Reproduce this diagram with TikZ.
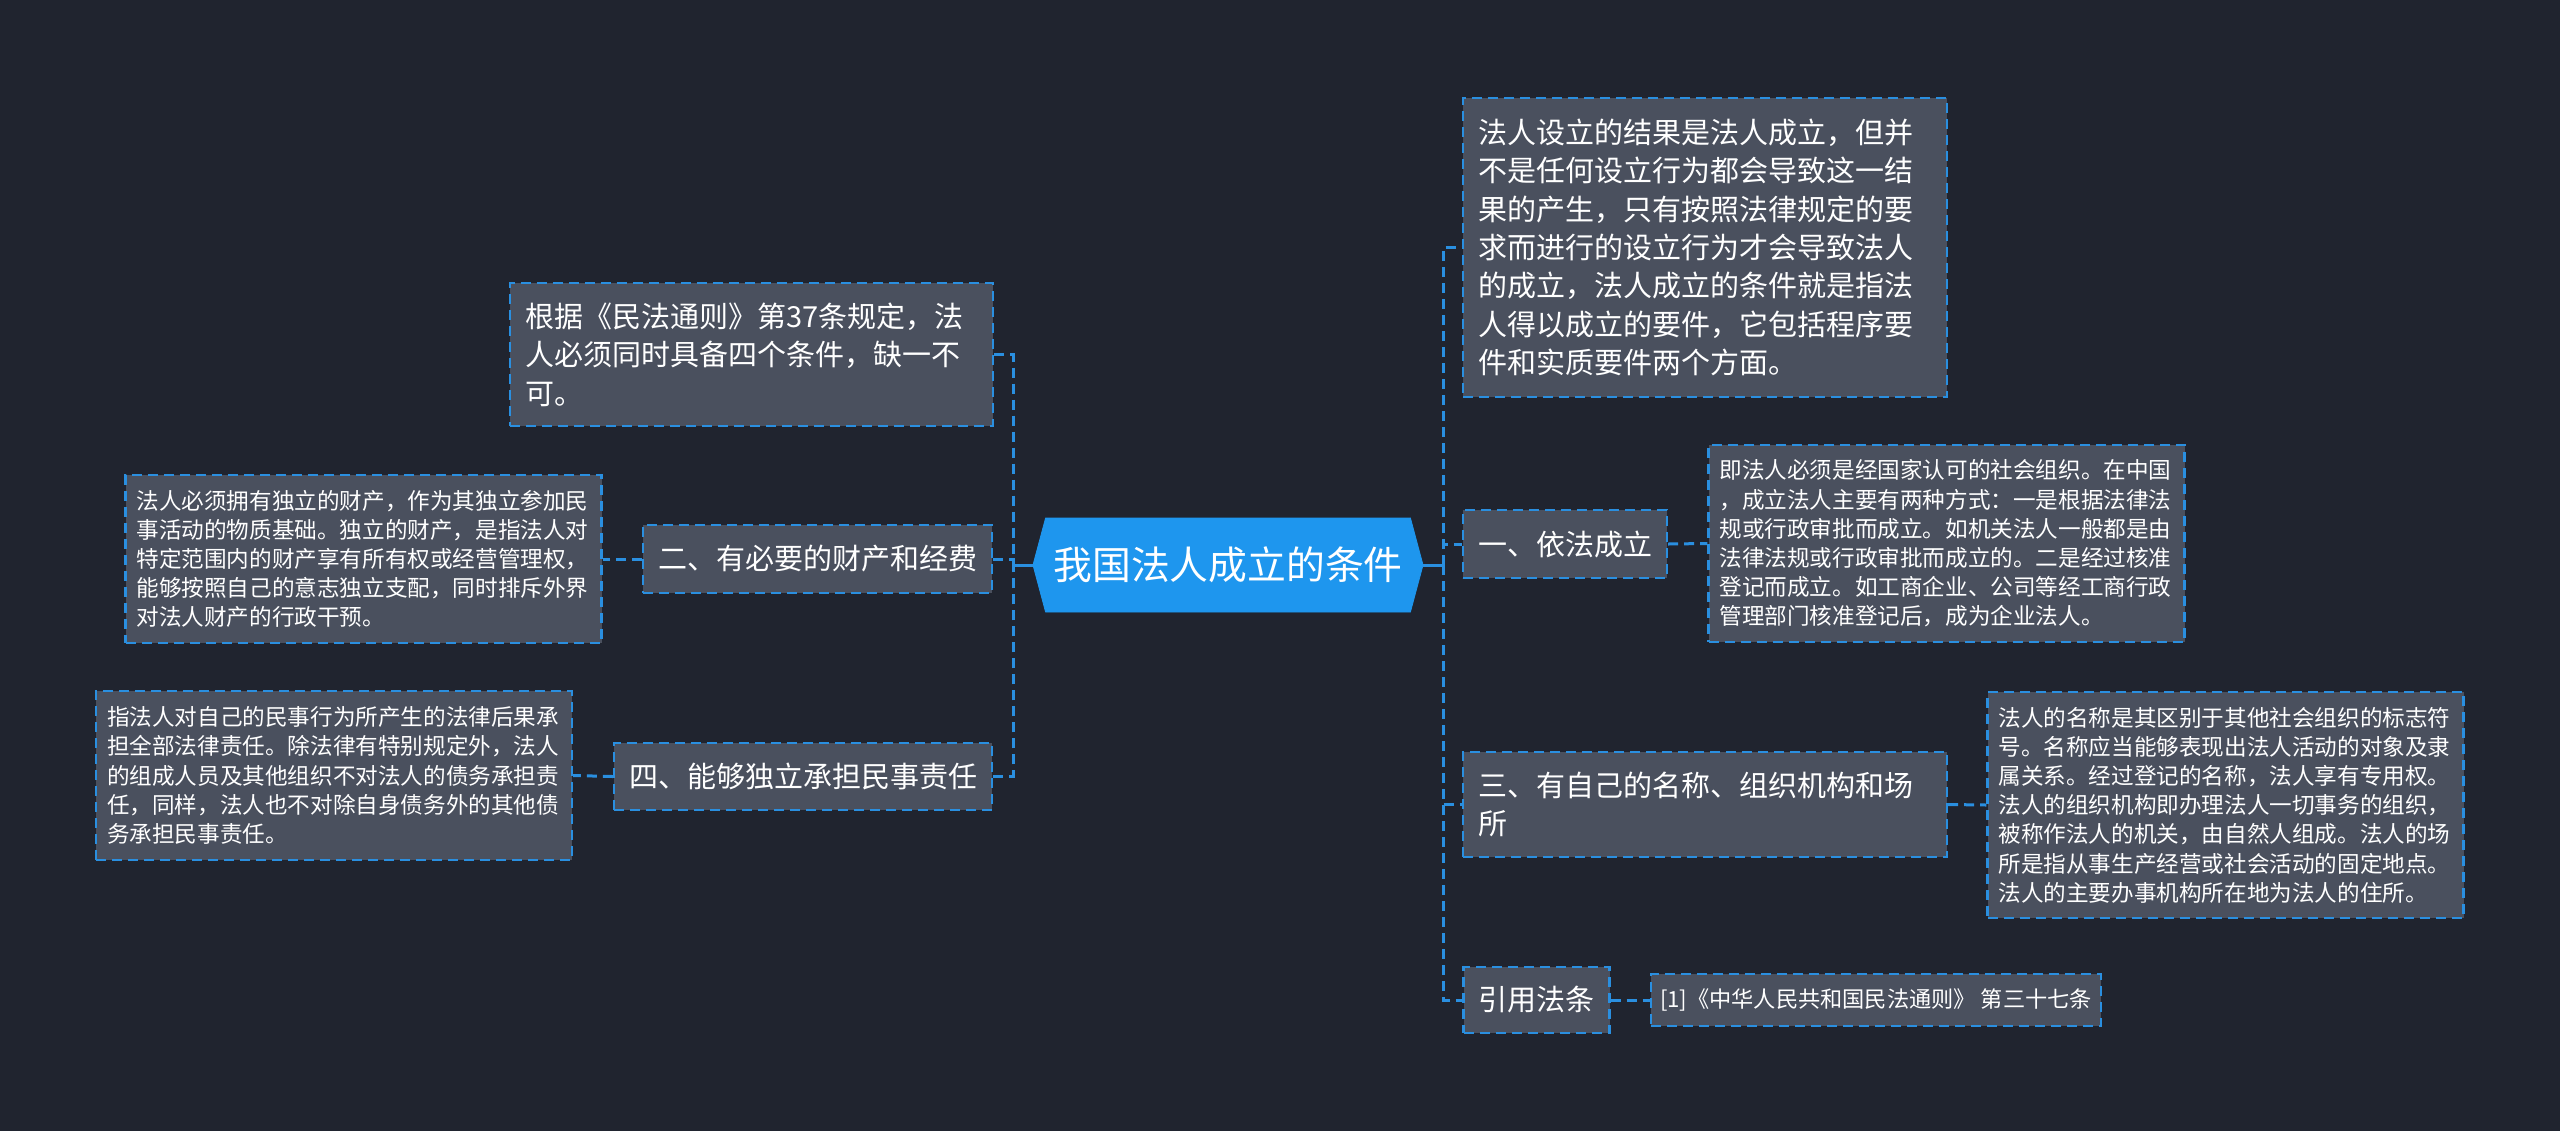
\documentclass[tikz,border=0pt]{standalone}
\usepackage{fontspec}
\setmainfont{Noto Sans CJK SC}
\usepackage{tikz}
\usetikzlibrary{shapes.symbols}
\definecolor{bgdark}{HTML}{20242F}
\definecolor{boxgray}{HTML}{4A505E}
\definecolor{lineblue}{HTML}{2A8FE0}
\definecolor{rootblue}{HTML}{1E96EE}
\tikzset{every picture/.style={x=0.5pt, y=-0.5pt}}
\tikzset{solidlink/.style={draw=lineblue, line width=1.5pt}}
\tikzset{dashlink/.style={solidlink, dash pattern=on 5pt off 3pt}}
\tikzset{mainbox/.style={draw=lineblue, fill=boxgray, text=white, line width=1.2pt, dash pattern=on 5pt off 3pt, inner xsep=7.5pt, inner ysep=0pt, align=left, font=\fontsize{14.5}{19.2}\selectfont}}
\tikzset{notebox/.style={mainbox, inner xsep=5.5pt, text width=227pt, font=\fontsize{11.3}{14.6}\selectfont}}
\tikzset{centerbox/.style={signal, signal to=east and west, signal pointer angle=150, fill=rootblue, draw=rootblue, text=white, minimum width=195pt, minimum height=47pt, inner sep=0pt, font=\fontsize{19.4}{24}\selectfont}}

\begin{document}
\begin{tikzpicture}
\fill[bgdark] (0,0) rectangle (2560,1131);
\node[centerbox] (root) at (1228,565) {我国法人成立的条件};
\coordinate (lj) at (1013,565);
\coordinate (rj) at (1443,565);
% left side
\node[mainbox, text width=226.5pt, minimum height=71.5pt] (l1) at (751.5,354.5) {根据《民法通则》第37条规定，法\\人必须同时具备四个条件，缺一不\\可。};
\node[mainbox, minimum height=34pt] (l2) at (817.5,559) {二、有必要的财产和经费};
\node[notebox, minimum height=84pt] (l2n) at (363.5,559) {法人必须拥有独立的财产，作为其独立参加民\\事活动的物质基础。独立的财产，是指法人对\\特定范围内的财产享有所有权或经营管理权，\\能够按照自己的意志独立支配，同时排斥外界\\对法人财产的行政干预。};
\node[mainbox, minimum height=33.5pt] (l4) at (803,776.5) {四、能够独立承担民事责任};
\node[notebox, minimum height=84.5pt] (l4n) at (334,775.5) {指法人对自己的民事行为所产生的法律后果承\\担全部法律责任。除法律有特别规定外，法人\\的组成人员及其他组织不对法人的债务承担责\\任，同样，法人也不对除自身债务外的其他债\\务承担民事责任。};
% right side
\node[mainbox, text width=227pt, minimum height=149.5pt] (r1) at (1705,247.5) {法人设立的结果是法人成立，但并\\不是任何设立行为都会导致这一结\\果的产生，只有按照法律规定的要\\求而进行的设立行为才会导致法人\\的成立，法人成立的条件就是指法\\人得以成立的要件，它包括程序要\\件和实质要件两个方面。};
\node[mainbox, minimum height=34pt] (r2) at (1565,544) {一、依法成立};
\node[notebox, minimum height=98.5pt] (r2n) at (1946.5,543.5) {即法人必须是经国家认可的社会组织。在中国\\，成立法人主要有两种方式：一是根据法律法\\规或行政审批而成立。如机关法人一般都是由\\法律法规或行政审批而成立的。二是经过核准\\登记而成立。如工商企业、公司等经工商行政\\管理部门核准登记后，成为企业法人。};
\node[mainbox, text width=227pt, minimum height=52.5pt] (r3) at (1705,804.5) {三、有自己的名称、组织机构和场\\所};
\node[notebox, minimum height=113pt] (r3n) at (2225.5,805) {法人的名称是其区别于其他社会组织的标志符\\号。名称应当能够表现出法人活动的对象及隶\\属关系。经过登记的名称，法人享有专用权。\\法人的组织机构即办理法人一切事务的组织，\\被称作法人的机关，由自然人组成。法人的场\\所是指从事生产经营或社会活动的固定地点。\\法人的主要办事机构所在地为法人的住所。};
\node[mainbox, minimum height=33pt] (r4) at (1536.5,1000) {引用法条};
\node[mainbox, inner xsep=3.5pt, minimum width=225pt, minimum height=26pt, font=\fontsize{11.1}{14.6}\selectfont] (r4n) at (1876,1000) {[1]《中华人民共和国民法通则》 第三十七条};
% connectors
\draw[solidlink] (root.west) -- (lj);
\draw[solidlink] (root.east) -- (rj);
\foreach \n in {l1,l2,l4} \draw[dashlink] (\n.east) -| (lj);
\foreach \n in {r1,r2,r3,r4} \draw[dashlink] (rj) |- (\n.west);
\foreach \a/\b in {l2/l2n, l4/l4n} \draw[dashlink] (\a.west) -- (\b.east);
\foreach \a/\b in {r2/r2n, r3/r3n, r4/r4n} \draw[dashlink] (\a.east) -- (\b.west);
\end{tikzpicture}
\end{document}
